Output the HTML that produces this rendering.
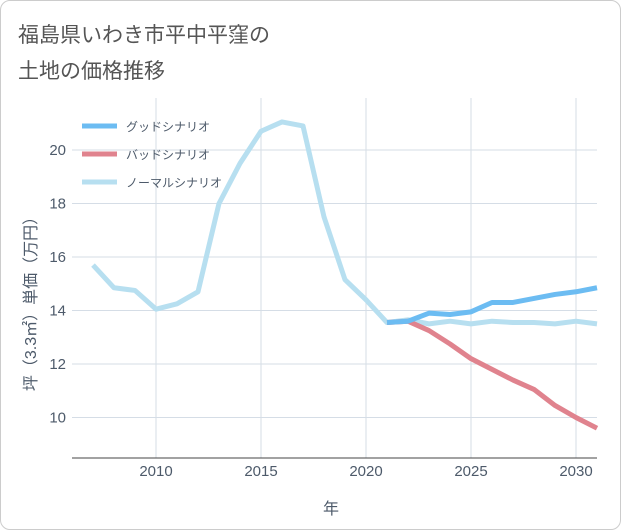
<!DOCTYPE html>
<html><head><meta charset="utf-8"><style>
body{margin:0;background:#fff;font-family:"Liberation Sans","Noto Sans CJK JP",sans-serif}
#card{position:absolute;left:0;top:0;width:619px;height:528px;border:1px solid #ccc;border-radius:10px;background:#fff}
</style></head><body>
<div id="card">
<svg width="621" height="530" style="position:absolute;left:-1px;top:-1px">
<text x="18" y="42" font-size="21" fill="#555">福島県いわき市平中平窪の</text>
<text x="18" y="78" font-size="21" fill="#555">土地の価格推移</text>
<g id="grid"></g><g id="series"></g><g id="legend"></g>
<text x="331" y="514" font-size="16" fill="#4d5a6a" text-anchor="middle">年</text>
<text transform="translate(36,300) rotate(-90)" font-size="16" fill="#4d5a6a" text-anchor="middle">坪（3.3㎡）単価（万円）</text>
</svg></div>
<script>
const years=[2007,2008,2009,2010,2011,2012,2013,2014,2015,2016,2017,2018,2019,2020,2021,2022,2023,2024,2025,2026,2027,2028,2029,2030,2031];
const normal=[15.7,14.85,14.75,14.05,14.25,14.7,18.0,19.5,20.7,21.05,20.9,17.5,15.15,14.4,13.55,13.65,13.5,13.6,13.5,13.6,13.55,13.55,13.5,13.6,13.5];
const fYears=[2021,2022,2023,2024,2025,2026,2027,2028,2029,2030,2031];
const good=[13.55,13.6,13.9,13.85,13.95,14.3,14.3,14.45,14.6,14.7,14.85];
const bad=[13.55,13.6,13.25,12.75,12.2,11.8,11.4,11.05,10.45,10.0,9.6];
const xTicks=[2010,2015,2020,2025,2030];
const yTicks=[10,12,14,16,18,20];
const NS="http://www.w3.org/2000/svg";
const L=72,R=597,T=98,B=458;
const x=v=>156+(v-2010)*21;
const y=v=>150+(20-v)*26.75;
function mk(tag,attrs,parent){const e=document.createElementNS(NS,tag);for(const k in attrs)e.setAttribute(k,attrs[k]);parent.appendChild(e);return e;}
const grid=document.getElementById('grid');
for(const t of xTicks){
 const l=mk('line',{x1:x(t),x2:x(t),y1:T,y2:B,stroke:'#d5dde6'},grid);
 
 
 const tx=mk('text',{x:x(t),y:476,'font-size':15,fill:'#4d5a6a','text-anchor':'middle'},grid);tx.textContent=t;
 
 
}
for(const t of yTicks){
 const l=mk('line',{x1:L,x2:R,y1:y(t),y2:y(t),stroke:'#d5dde6'},grid);
 
 
 const tx=mk('text',{x:66,y:y(t)+5,'font-size':15,fill:'#4d5a6a','text-anchor':'end'},grid);tx.textContent=t;
 
 
}
const ax=mk('line',{x1:L,x2:R,y1:B,y2:B,stroke:'#444'},grid);


const ser=document.getElementById('series');
function line(xs,vs,color,name){
 const p=mk('polyline',{points:xs.map((a,i)=>x(a)+','+y(vs[i])).join(' '),fill:'none',stroke:color,'stroke-width':5,'stroke-linejoin':'round'},ser);
 
 
}
line(years,normal,'#b7dff0','normal-scenario-line');
line(fYears,bad,'#e0838e','bad-scenario-line');
line(fYears,good,'#6cbcf2','good-scenario-line');
const lg=document.getElementById('legend');
const items=[['グッドシナリオ','#6cbcf2'],['バッドシナリオ','#e0838e'],['ノーマルシナリオ','#b7dff0']];
items.forEach((it,i)=>{
 const g=mk('g',{},lg);
 
 
 const yy=126+i*28;
 mk('line',{x1:82,x2:117,y1:yy,y2:yy,stroke:it[1],'stroke-width':5},g);
 const t=mk('text',{x:126,y:yy+5,'font-size':12,fill:'#4d5a6a'},g);t.textContent=it[0];
});
</script>
</body></html>
